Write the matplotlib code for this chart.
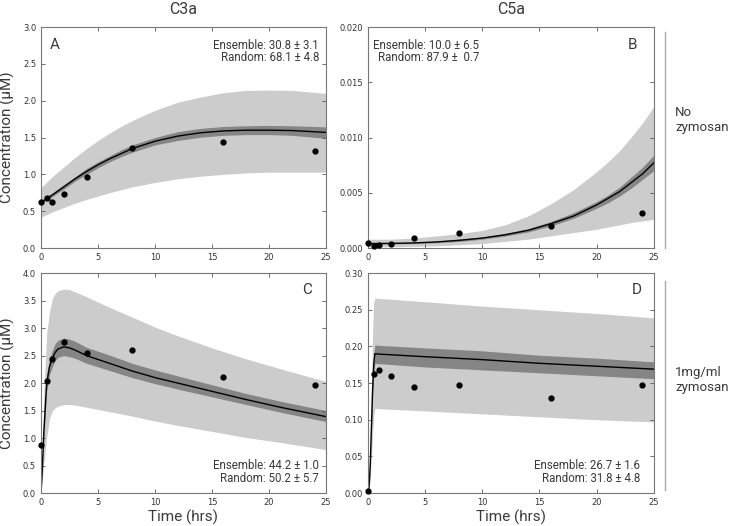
import matplotlib
matplotlib.use("Agg")
import matplotlib.pyplot as plt
from matplotlib.lines import Line2D
from matplotlib.ticker import FormatStrFormatter

# measured data (same time points for every panel)
t_data = [0, 0.5, 1, 2, 4, 8, 16, 24]
a_data = [0.62, 0.68, 0.63, 0.73, 0.96, 1.36, 1.44, 1.32]
b_data = [0.00043, 0.0002, 0.0003, 0.00037, 0.00088, 0.00137, 0.00195, 0.0032]
c_data = [0.88, 2.03, 2.43, 2.74, 2.55, 2.60, 2.11, 1.96]
d_data = [0.003, 0.162, 0.168, 0.159, 0.144, 0.147, 0.130, 0.148]

# panel A: C3a, no zymosan
a_t = [0, 1, 2, 3, 4, 5, 6, 7, 8, 10, 12, 14, 16, 18, 20, 22, 25]
a_mean = [0.62, 0.72, 0.83, 0.94, 1.04, 1.13, 1.21, 1.28, 1.35, 1.45, 1.52, 1.565, 1.59, 1.60, 1.60, 1.595, 1.57]
a_in_lo = [0.60, 0.70, 0.80, 0.91, 1.00, 1.09, 1.17, 1.24, 1.30, 1.40, 1.46, 1.505, 1.53, 1.54, 1.54, 1.53, 1.49]
a_in_hi = [0.64, 0.75, 0.86, 0.97, 1.08, 1.17, 1.25, 1.33, 1.40, 1.50, 1.58, 1.625, 1.65, 1.66, 1.665, 1.66, 1.645]
a_out_lo = [0.42, 0.49, 0.55, 0.61, 0.66, 0.705, 0.75, 0.79, 0.83, 0.89, 0.94, 0.975, 1.0, 1.02, 1.03, 1.03, 1.03]
a_out_hi = [0.82, 0.97, 1.10, 1.23, 1.35, 1.46, 1.56, 1.65, 1.73, 1.87, 1.98, 2.05, 2.11, 2.14, 2.145, 2.14, 2.10]

# panel B: C5a, no zymosan
b_t = [0, 2, 4, 6, 8, 10, 12, 14, 16, 18, 20, 21, 22, 23, 24, 25]
b_mean = [0.0004, 0.00042, 0.00046, 0.00055, 0.0007, 0.0009, 0.0012, 0.0016, 0.0022, 0.0029, 0.0039, 0.0045, 0.0051, 0.0059, 0.0067, 0.0077]
b_in_lo = [0.00035, 0.00037, 0.0004, 0.00048, 0.0006, 0.0008, 0.00108, 0.00145, 0.002, 0.0027, 0.0036, 0.0041, 0.0047, 0.0054, 0.0062, 0.0070]
b_in_hi = [0.00045, 0.00047, 0.00052, 0.00062, 0.0008, 0.001, 0.00132, 0.00175, 0.0024, 0.0032, 0.0042, 0.0048, 0.0055, 0.0064, 0.0073, 0.0084]
b_out_lo = [0.0001, 0.00012, 0.00015, 0.0002, 0.0003, 0.0004, 0.0006, 0.0008, 0.0011, 0.0014, 0.0017, 0.0019, 0.0021, 0.0023, 0.00245, 0.0026]
b_out_hi = [0.0008, 0.0008, 0.0009, 0.0011, 0.0013, 0.0016, 0.0021, 0.0029, 0.0040, 0.0053, 0.0069, 0.0078, 0.0088, 0.0100, 0.0113, 0.0128]

# panel C: C3a, 1mg/ml zymosan
c_t = [0, 0.1, 0.25, 0.5, 0.75, 1, 1.25, 1.5, 2, 2.5, 3, 4, 6, 8, 10, 12, 15, 18, 21, 25]
c_mean = [0, 0.35, 1.1, 2.0, 2.3, 2.45, 2.56, 2.62, 2.66, 2.64, 2.6, 2.5, 2.36, 2.22, 2.1, 2.0, 1.85, 1.7, 1.56, 1.39]
c_in_lo = [0, 0.32, 1.0, 1.85, 2.15, 2.3, 2.41, 2.47, 2.5, 2.48, 2.45, 2.36, 2.23, 2.1, 1.99, 1.89, 1.75, 1.61, 1.47, 1.30]
c_in_hi = [0, 0.38, 1.2, 2.15, 2.45, 2.6, 2.72, 2.78, 2.82, 2.80, 2.76, 2.65, 2.51, 2.36, 2.24, 2.13, 1.97, 1.81, 1.67, 1.50]
c_out_lo = [0, 0.2, 0.55, 1.02, 1.35, 1.5, 1.55, 1.58, 1.61, 1.61, 1.6, 1.56, 1.48, 1.4, 1.31, 1.23, 1.12, 1.01, 0.92, 0.79]
c_out_hi = [0, 0.6, 1.8, 2.9, 3.3, 3.54, 3.63, 3.68, 3.71, 3.70, 3.66, 3.57, 3.38, 3.2, 3.02, 2.86, 2.64, 2.44, 2.26, 2.03]

# panel D: C5a, 1mg/ml zymosan
d_t = [0, 0.1, 0.2, 0.3, 0.4, 0.5, 0.6, 1, 5, 10, 15, 20, 25]
d_mean = [0, 0.01, 0.04, 0.09, 0.14, 0.175, 0.19, 0.1895, 0.186, 0.182, 0.177, 0.173, 0.169]
d_in_lo = [0, 0.009, 0.036, 0.082, 0.128, 0.161, 0.177, 0.1765, 0.172, 0.168, 0.164, 0.160, 0.156]
d_in_hi = [0, 0.011, 0.044, 0.099, 0.153, 0.19, 0.202, 0.2015, 0.198, 0.194, 0.188, 0.184, 0.179]
d_out_lo = [0, 0.005, 0.02, 0.05, 0.08, 0.105, 0.1155, 0.115, 0.112, 0.108, 0.104, 0.100, 0.097]
d_out_hi = [0, 0.015, 0.06, 0.14, 0.22, 0.26, 0.266, 0.2655, 0.261, 0.255, 0.25, 0.245, 0.239]

scores = {
    "A": ("Ensemble: 30.8 \u00b1 3.1", "Random: 68.1 \u00b1 4.8"),
    "B": ("Ensemble: 10.0 \u00b1 6.5", "Random: 87.9 \u00b1  0.7"),
    "C": ("Ensemble: 44.2 \u00b1 1.0", "Random: 50.2 \u00b1 5.7"),
    "D": ("Ensemble: 26.7 \u00b1 1.6", "Random: 31.8 \u00b1 4.8"),
}

TXT = ["Roboto", "DejaVu Sans"]
TW = "normal"
TC = "#3a3a3a"
LIGHT = "#cccccc"
DARK = "#858585"

fig = plt.figure(figsize=(7.29, 5.26), dpi=100)
pos = {
    "A": [0.0562, 0.5285, 0.391, 0.420],
    "B": [0.5048, 0.5285, 0.392, 0.420],
    "C": [0.0562, 0.0627, 0.391, 0.418],
    "D": [0.5048, 0.0627, 0.392, 0.418],
}
panels = {
    "A": (a_t, a_mean, a_in_lo, a_in_hi, a_out_lo, a_out_hi, a_data, 3.0, 0.5, "%.1f"),
    "B": (b_t, b_mean, b_in_lo, b_in_hi, b_out_lo, b_out_hi, b_data, 0.020, 0.005, "%.3f"),
    "C": (c_t, c_mean, c_in_lo, c_in_hi, c_out_lo, c_out_hi, c_data, 4.0, 0.5, "%.1f"),
    "D": (d_t, d_mean, d_in_lo, d_in_hi, d_out_lo, d_out_hi, d_data, 0.30, 0.05, "%.2f"),
}

axes = {}
for key, (t, m, ilo, ihi, olo, ohi, pts, ymax, ystep, fmt) in panels.items():
    ax = fig.add_axes(pos[key])
    axes[key] = ax
    ax.fill_between(t, olo, ohi, color=LIGHT, lw=0)
    ax.fill_between(t, ilo, ihi, color=DARK, lw=0)
    ax.plot(t, m, color="black", lw=1)
    ax.plot(t_data, pts, "o", color="black", ms=3.5, clip_on=False, zorder=5)
    ax.set_xlim(0, 25)
    ax.set_ylim(0, ymax)
    ax.set_xticks(range(0, 26, 5))
    n = int(round(ymax / ystep))
    ax.set_yticks([i * ystep for i in range(n + 1)])
    ax.yaxis.set_major_formatter(FormatStrFormatter(fmt))
    ax.tick_params(direction="in", top=True, right=True, labelsize=6,
                   length=3, width=0.6, colors="#555555", labelcolor="#333333")
    for s in ax.spines.values():
        s.set_color("#777777")
        s.set_linewidth(0.8)

# panel letters
letter_pos = {"A": (0.05, 0.918), "B": (0.927, 0.918), "C": (0.933, 0.923), "D": (0.94, 0.923)}
for key, (x, y) in letter_pos.items():
    axes[key].text(x, y, key, transform=axes[key].transAxes, ha="center", va="center",
                   fontsize=11, family=TXT, weight=TW, color=TC)

# ensemble / random scores
score_pos = {"A": (0.975, 0.918, 0.864), "B": (0.388, 0.918, 0.864),
             "C": (0.975, 0.127, 0.068), "D": (0.951, 0.127, 0.068)}
for key, (x, y1, y2) in score_pos.items():
    ax = axes[key]
    ax.text(x, y1, scores[key][0], transform=ax.transAxes, ha="right", va="center",
            fontsize=8.3, family=TXT, weight=TW, color=TC)
    ax.text(x, y2, scores[key][1], transform=ax.transAxes, ha="right", va="center",
            fontsize=8.3, family=TXT, weight=TW, color=TC)

# column titles and axis labels
fig.text(183 / 729, 1 - 10 / 526, "C3a", ha="center", va="center", fontsize=11.5,
         family=TXT, weight=TW, color=TC)
fig.text(511 / 729, 1 - 10 / 526, "C5a", ha="center", va="center", fontsize=11.5,
         family=TXT, weight=TW, color=TC)
for key in ("A", "C"):
    axes[key].set_ylabel("Concentration (\u03bcM)", fontsize=11, family=TXT, weight=TW,
                         color=TC, labelpad=6)
for key in ("C", "D"):
    axes[key].set_xlabel("Time (hrs)", fontsize=11, family=TXT, weight=TW, color=TC, labelpad=2)

# row labels with separators
fig.add_artist(Line2D([665 / 729, 665 / 729], [1 - 32 / 526, 1 - 248 / 526], color="#aaaaaa", lw=1))
fig.add_artist(Line2D([665 / 729, 665 / 729], [1 - 281 / 526, 1 - 490 / 526], color="#aaaaaa", lw=1))
fig.text(675 / 729, 1 - 120 / 526, "No\nzymosan", ha="left", va="center", fontsize=9.5,
         family=TXT, weight=TW, color=TC, linespacing=1.2)
fig.text(675 / 729, 1 - 380 / 526, "1mg/ml\nzymosan", ha="left", va="center", fontsize=9.5,
         family=TXT, weight=TW, color=TC, linespacing=1.2)

fig.savefig("out.png", dpi=100)
